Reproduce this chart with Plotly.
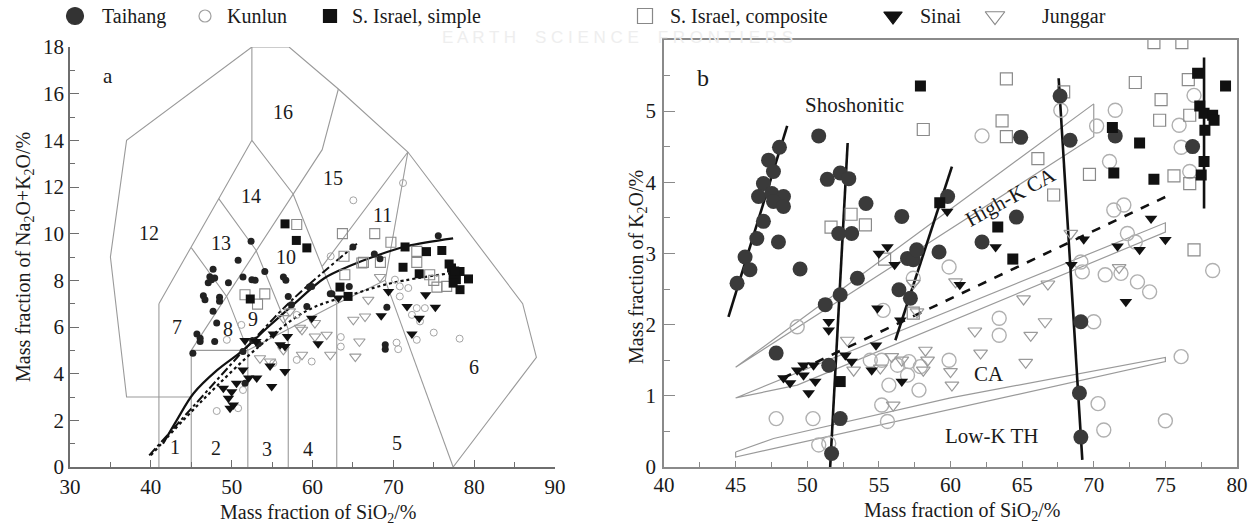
import plotly.graph_objects as go

FONT = "Liberation Serif, Times New Roman, serif"
W, H = 1254, 526

# ---------------- Panel a : TAS (SiO2 vs Na2O+K2O) ----------------
taihang_a_x = [52.4, 50.8, 47.7, 47.3, 47.5, 47.9, 47.1, 49.6, 51.4, 52.5, 52.9, 54.1, 56.4, 56.7, 46.5, 46.7,
               48.5, 48.5, 47.7, 48.15, 45.7, 46.1, 46.1, 47.9, 45.2, 57.0, 57.4, 59.3, 59.9, 62.4, 52.6, 53.3,
               51.4, 51.65, 65.0, 67.65, 68.35, 75.56, 69.2, 69.0, 69.0, 64.55, 62.2, 59.6]
taihang_a_y = [9.67, 8.86, 8.48, 8.15, 8.03, 8.1, 7.9, 7.9, 8.14, 8.03, 8.0, 8.38, 8.14, 8.0, 7.34, 7.17,
               7.28, 7.1, 6.67, 6.17, 5.7, 5.52, 5.38, 5.38, 4.88, 7.31, 6.95, 6.88, 7.74, 7.42, 5.42, 5.28,
               4.95, 3.59, 9.43, 9.13, 8.93, 9.91, 6.85, 5.24, 5.05, 7.74, 7.42, 7.71]

kunlun_a_x = [65.05, 71.2, 62.25, 70.2, 70.8, 71.85, 70.8, 72.9, 73.9, 72.3, 73.3, 75.0, 78.2, 70.4, 72.9,
              70.6, 59.9, 63.5, 63.5, 48.15, 50.8, 49.4, 58.05, 51.2, 51.4, 55.15, 58.05]
kunlun_a_y = [11.43, 12.17, 9.03, 8.03, 7.74, 7.67, 7.31, 6.81, 6.81, 6.52, 6.24, 5.76, 5.5, 5.33, 5.45,
              5.05, 4.52, 5.57, 5.16, 2.4, 2.52, 5.45, 4.59, 6.09, 3.3, 4.45, 6.52]

israel_s_a_x = [56.6, 58.0, 59.3, 52.3, 63.4, 64.4, 71.45, 74.1, 76.0, 71.2, 73.2, 77.2, 77.4, 77.8, 78.25,
                79.3, 78.25, 77.4, 76.9, 77.6]
israel_s_a_y = [10.42, 9.71, 9.39, 7.2, 7.71, 7.31, 9.43, 9.23, 9.28, 8.56, 8.28, 8.53, 8.24, 8.03, 8.38,
                8.06, 7.6, 7.88, 8.7, 8.4]

israel_c_a_x = [58.05, 63.7, 67.7, 63.9, 66.1, 51.65, 54.1, 53.2, 69.7, 72.9, 72.9, 66.3, 64.0, 68.4, 75.0,
                75.4, 76.6, 74.5]
israel_c_a_y = [10.39, 10.0, 10.0, 9.03, 8.74, 7.38, 7.42, 6.98, 9.63, 9.24, 8.77, 8.77, 8.24, 8.77, 8.0,
                7.71, 7.74, 8.24]

sinai_a_x = [51.65, 53.0, 55.15, 56.9, 56.0, 56.6, 59.9, 60.7, 54.75, 56.6, 51.4, 53.1, 54.95, 48.97, 50.0,
             50.6, 49.6, 50.2, 49.8, 52.1, 63.2, 69.4, 74.0, 71.7, 75.2, 68.5, 73.2, 72.3]
sinai_a_y = [5.42, 5.38, 5.7, 5.59, 5.24, 5.16, 6.38, 5.28, 4.33, 4.09, 4.16, 3.81, 3.45, 3.38, 3.23,
             3.59, 2.95, 2.66, 2.52, 3.81, 7.24, 7.52, 7.38, 6.88, 6.85, 6.48, 6.38, 5.7]

junggar_a_x = [58.7, 60.3, 61.75, 62.2, 58.7, 56.4, 54.75, 53.5, 57.2, 56.4, 65.05, 66.5, 68.35, 65.8, 65.3,
               60.3, 66.9, 58.45]
junggar_a_y = [5.88, 5.59, 5.67, 4.81, 4.81, 5.02, 4.52, 4.66, 6.67, 6.38, 6.31, 6.45, 8.14, 5.38, 4.73,
               6.17, 7.17, 5.97]

# TAS field boundaries (SiO2, alkali) polylines
tas_lines = [
    [(41, 0), (41, 7)],
    [(41, 7), (45, 9.4), (48.4, 11.5), (52.5, 14)],
    [(45, 0), (45, 5)],
    [(45, 3), (37, 3), (35, 9), (37, 14), (52.5, 18), (57.1, 18), (63.2, 16.2), (71.8, 13.5),
     (86, 7), (87.7, 4.7), (77.4, 0)],
    [(45, 5), (61.2, 13.6), (63.2, 16.2)],
    [(45, 5), (52, 5)],
    [(52, 5), (57, 5.9), (63, 7), (69, 8)],
    [(45, 9.4), (49.4, 7.3), (52, 5)],
    [(52, 0), (52, 5)],
    [(48.4, 11.5), (53, 9.3), (57, 5.9)],
    [(57, 0), (57, 5.9)],
    [(52.5, 14), (57.6, 11.7), (63, 7)],
    [(63, 0), (63, 7)],
    [(69, 8), (77.4, 0)],
    [(69, 8), (71.8, 13.5)],
    [(61.2, 8.6), (71.8, 13.5)],
    [(52.5, 14), (52.5, 18)],
]
tas_labels = ["1", "2", "3", "4", "5", "6", "7", "8", "9", "10", "11", "12", "13", "14", "15", "16"]
tas_label_x = [43.0, 48.1, 54.4, 59.4, 70.5, 80.0, 43.2, 49.6, 52.6, 56.7, 68.6, 39.8, 48.7, 52.35, 62.5, 56.3]
tas_label_y = [0.85, 0.8, 0.77, 0.77, 1.05, 4.3, 6.0, 5.9, 6.35, 9.0, 10.8, 10.05, 9.6, 11.6, 12.4, 15.2]

# trend curves panel a
solid_a_x = [41.5, 43.2, 45.3, 48.2, 51.4, 54.5, 57.6, 61.5, 64.5, 67.7, 71.6, 77.4]
solid_a_y = [1.0, 2.0, 3.16, 4.15, 5.0, 6.0, 6.95, 8.1, 8.6, 9.03, 9.46, 9.8]
dash_a_x = [39.8, 45.0, 52.7, 57.6, 65.6]
dash_a_y = [0.5, 2.5, 5.45, 7.2, 9.6]
dot_a_x = [40.0, 44.0, 48.1, 53.5, 59.3, 65.0, 70.0, 77.0]
dot_a_y = [0.5, 2.0, 3.45, 5.2, 6.7, 7.4, 7.9, 8.3]

# ---------------- Panel b : SiO2 vs K2O ----------------
taihang_b_x = [50.8, 48.06, 47.3, 47.64, 46.94, 46.6, 47.53, 48.34, 47.64, 48.34, 46.94, 46.48, 47.99, 45.66,
               46.0, 45.1, 49.5, 51.4, 52.3, 52.9, 52.2, 53.1, 54.1, 56.6, 53.5, 51.26, 52.3, 47.83, 51.5, 52.3,
               51.7, 56.4, 57.2, 57.0, 57.4, 57.64, 59.2, 59.8, 62.2, 64.6, 64.9, 67.65, 68.35, 71.5, 76.9,
               69.1, 69.0, 69.1]
taihang_b_y = [4.65, 4.49, 4.31, 4.15, 3.98, 3.80, 3.84, 3.80, 3.73, 3.66, 3.45, 3.21, 3.16, 2.95,
               2.77, 2.58, 2.78, 4.04, 4.13, 4.05, 3.28, 3.28, 3.70, 3.52, 2.65, 2.28, 2.42, 1.60, 1.43, 0.68,
               0.19, 2.49, 2.37, 2.93, 2.91, 3.05, 3.02, 3.80, 3.16, 3.51, 4.63, 5.21, 4.59, 4.65, 4.5,
               2.04, 1.04, 0.42]

kunlun_b_x = [49.3, 47.83, 50.4, 50.8, 51.5, 55.3, 55.7, 55.2, 55.6, 54.4, 55.2, 56.3, 57.1, 57.8, 57.0, 57.9,
              59.9, 57.4, 59.9, 63.4, 63.4, 69.1, 69.2, 70.0, 70.8, 71.9, 73.05, 73.9, 70.3, 70.7, 75.0, 76.1,
              78.3, 62.2, 67.7, 70.2, 71.5, 71.1, 71.4, 72.1, 72.35, 72.9, 75.96, 76.1, 77.0, 76.7]
kunlun_b_y = [1.97, 0.68, 0.68, 0.31, 0.33, 2.2, 1.15, 0.87, 0.64, 1.50, 1.50, 1.43, 1.48, 1.08, 1.29, 1.41,
              1.50, 2.65, 2.81, 2.09, 1.85, 2.88, 2.74, 2.04, 2.70, 2.72, 2.60, 2.46, 0.89, 0.52, 0.65, 1.55,
              2.76, 4.65, 5.01, 4.79, 5.01, 4.29, 3.61, 3.68, 3.28, 3.16, 4.80, 4.49, 5.22, 4.15]

israel_s_b_x = [57.9, 59.25, 63.3, 64.35, 71.3, 71.4, 73.2, 74.2, 77.25, 79.2, 77.4, 77.7, 78.3, 78.4, 77.76,
                77.7, 77.5, 52.3]
israel_s_b_y = [5.35, 3.71, 3.37, 2.92, 4.77, 4.13, 4.55, 4.04, 5.53, 5.35, 5.07, 4.97, 4.94, 4.87, 4.73,
                4.29, 4.10, 1.20]

israel_c_b_x = [51.66, 53.06, 54.06, 58.1, 55.4, 63.9, 63.6, 63.9, 66.1, 67.2, 67.9, 69.7, 72.9, 74.7, 74.6,
                74.2, 76.15, 76.6, 76.7, 75.6, 76.7, 77.0, 57.4]
israel_c_b_y = [3.37, 3.55, 3.40, 4.74, 2.92, 5.45, 4.86, 4.64, 4.33, 3.82, 5.27, 4.11, 5.40, 5.16, 4.87,
                5.96, 5.96, 5.44, 4.94, 4.09, 3.98, 3.05, 2.16]

sinai_b_x = [55.0, 55.6, 56.1, 54.9, 51.5, 51.5, 54.8, 56.5, 52.66, 53.1, 54.5, 56.6, 48.34, 48.8, 49.3, 49.74,
             50.44, 49.74, 50.56, 50.1, 59.77, 63.15, 69.3, 71.66, 73.2, 74.0, 75.0, 60.65, 68.44, 72.24]
sinai_b_y = [3.0, 3.09, 2.84, 2.23, 2.04, 1.92, 1.71, 2.06, 1.57, 1.48, 1.36, 1.20, 1.25, 1.18, 1.36, 1.43,
             1.43, 1.29, 1.20, 1.04, 3.59, 3.09, 3.20, 3.10, 3.05, 3.49, 3.19, 2.56, 2.84, 2.32]

junggar_b_x = [52.8, 53.24, 55.1, 55.9, 56.6, 58.25, 58.4, 58.1, 56.0, 57.66, 57.4, 60.35, 60.0, 60.1, 61.7,
               62.1, 65.25, 65.6, 66.6, 65.1, 66.8, 71.77, 68.4]
junggar_b_y = [1.78, 1.36, 1.39, 1.55, 1.50, 1.64, 1.50, 1.36, 0.87, 2.18, 2.58, 2.60, 1.34, 1.15, 1.91,
               1.60, 1.47, 1.85, 2.04, 2.36, 2.57, 2.80, 3.28]

# series boundary bands (Peccerillo & Taylor style)
band_lines_b = [
    [(45, 1.4), (70, 5.1), (70, 4.64), (45, 1.4)],
    [(45, 0.97), (75, 3.43), (75, 3.3), (49.3, 1.15), (45, 0.97)],
    [(45, 0.21), (47.65, 0.4), (60, 0.97), (75, 1.54), (75, 1.48), (60, 0.81), (45, 0.14), (45, 0.21)],
]
trend_b = [
    [(44.5, 2.11), (48.6, 4.79)],
    [(51.6, 0.0), (52.82, 4.55)],
    [(56.15, 1.78), (60.1, 4.22)],
    [(67.55, 5.46), (69.2, 0.1)],
    [(77.7, 5.75), (77.7, 3.63)],
]
dash_b_x = [48.3, 75.07]
dash_b_y = [1.25, 3.8]

legend_names = ["Taihang", "Kunlun", "S. Israel, simple", "S. Israel, composite", "Sinai", "Junggar"]

# ---------------- figure ----------------
def dx(p0, p1):
    return [p0 / W, p1 / W]


def dy(top, bottom):
    return [(H - bottom) / H, (H - top) / H]


fig = go.Figure()
LINE_GRAY = "#9a9a9a"

# panel a boundaries
for seg in tas_lines:
    fig.add_trace(go.Scatter(x=[p[0] for p in seg], y=[p[1] for p in seg], mode="lines",
                             line=dict(color=LINE_GRAY, width=1.1), xaxis="x", yaxis="y",
                             showlegend=False, hoverinfo="skip"))
# panel a trends
fig.add_trace(go.Scatter(x=solid_a_x, y=solid_a_y, mode="lines", line=dict(color="#111", width=2.2, shape="spline"),
                         xaxis="x", yaxis="y", showlegend=False))
fig.add_trace(go.Scatter(x=dash_a_x, y=dash_a_y, mode="lines", line=dict(color="#111", width=2, dash="dashdot", shape="spline"),
                         xaxis="x", yaxis="y", showlegend=False))
fig.add_trace(go.Scatter(x=dot_a_x, y=dot_a_y, mode="lines", line=dict(color="#111", width=2.2, dash="dot", shape="spline"),
                         xaxis="x", yaxis="y", showlegend=False))

# panel b bands and trends
for seg in band_lines_b:
    fig.add_trace(go.Scatter(x=[p[0] for p in seg], y=[p[1] for p in seg], mode="lines",
                             line=dict(color=LINE_GRAY, width=1.2), xaxis="x2", yaxis="y2",
                             showlegend=False, hoverinfo="skip"))
for seg in trend_b:
    fig.add_trace(go.Scatter(x=[p[0] for p in seg], y=[p[1] for p in seg], mode="lines",
                             line=dict(color="#111", width=2.6), xaxis="x2", yaxis="y2", showlegend=False))
fig.add_trace(go.Scatter(x=dash_b_x, y=dash_b_y, mode="lines", line=dict(color="#111", width=2.6, dash="dash"),
                         xaxis="x2", yaxis="y2", showlegend=False))


def pts(x, y, ax, ay, symbol, size, color, lw=1.2):
    fig.add_trace(go.Scatter(x=x, y=y, mode="markers", xaxis=ax, yaxis=ay, showlegend=False,
                             marker=dict(symbol=symbol, size=size, color=color,
                                         line=dict(color=color, width=lw))))


# panel a points
pts(kunlun_a_x, kunlun_a_y, "x", "y", "circle-open", 7, "#a5a5a5", 1)
pts(junggar_a_x, junggar_a_y, "x", "y", "triangle-down-open", 10, "#9a9a9a", 1.1)
pts(israel_c_a_x, israel_c_a_y, "x", "y", "square-open", 10, "#8a8a8a", 1.1)
pts(taihang_a_x, taihang_a_y, "x", "y", "circle", 7, "#222222", 0)
pts(israel_s_a_x, israel_s_a_y, "x", "y", "square", 9, "#111111", 0)
pts(sinai_a_x, sinai_a_y, "x", "y", "triangle-down", 10, "#111111", 0)

# panel b points
pts(kunlun_b_x, kunlun_b_y, "x2", "y2", "circle-open", 14, "#b0b0b0", 1.4)
pts(junggar_b_x, junggar_b_y, "x2", "y2", "triangle-down-open", 12, "#9a9a9a", 1.2)
pts(israel_c_b_x, israel_c_b_y, "x2", "y2", "square-open", 12, "#8a8a8a", 1.2)
pts(taihang_b_x, taihang_b_y, "x2", "y2", "circle", 15, "#3a3a3a", 0)
pts(israel_s_b_x, israel_s_b_y, "x2", "y2", "square", 11, "#111111", 0)
pts(sinai_b_x, sinai_b_y, "x2", "y2", "triangle-down", 11, "#111111", 0)

# legend markers (on an invisible pixel-space axis)
leg_px = [75, 205, 330, 645, 893, 995]
leg_text_px = [100, 225, 350, 668, 918, 1040]
leg_sym = ["circle", "circle-open", "square", "square-open", "triangle-down", "triangle-down-open"]
leg_size = [17, 12, 13, 15, 16, 17]
leg_col = ["#333333", "#a0a0a0", "#111111", "#888888", "#111111", "#888888"]
for i in range(6):
    fig.add_trace(go.Scatter(x=[leg_px[i]], y=[16], mode="markers", xaxis="x3", yaxis="y3", showlegend=False,
                             marker=dict(symbol=leg_sym[i], size=leg_size[i], color=leg_col[i],
                                         line=dict(color=leg_col[i], width=1.2))))

tick_font = dict(family=FONT, size=21, color="#1a1a1a")
ax_line = "#6e6e6e"
TXT = "#1a1a1a"


def ptxt(px, py, text, size=21, angle=0, xanchor="center", family=FONT, color=TXT):
    return dict(x=px / W, y=(H - py) / H, xref="paper", yref="paper", text=text, showarrow=False,
                xanchor=xanchor, yanchor="middle", textangle=angle, font=dict(family=family, size=size, color=color))


layout_annots = []
for i, name in enumerate(legend_names):
    layout_annots.append(ptxt(leg_text_px[i], 16, name, size=20, xanchor="left"))
for t, x, y in zip(tas_labels, tas_label_x, tas_label_y):
    layout_annots.append(dict(x=x, y=y, xref="x", yref="y", text=t, showarrow=False,
                              font=dict(family=FONT, size=20, color=TXT)))
layout_annots += [
    dict(x=34.7, y=16.75, xref="x", yref="y", text="a", showarrow=False, font=dict(family=FONT, size=21, color=TXT)),
    dict(x=42.7, y=5.46, xref="x2", yref="y2", text="b", showarrow=False, font=dict(family=FONT, size=24, color=TXT)),
    dict(x=53.3, y=5.08, xref="x2", yref="y2", text="Shoshonitic", showarrow=False, font=dict(family=FONT, size=21, color=TXT)),
    dict(x=64.2, y=3.79, xref="x2", yref="y2", text="High-K CA", textangle=-29, showarrow=False, font=dict(family=FONT, size=21, color=TXT)),
    dict(x=62.7, y=1.3, xref="x2", yref="y2", text="CA", showarrow=False, font=dict(family=FONT, size=21, color=TXT)),
    dict(x=62.9, y=0.43, xref="x2", yref="y2", text="Low-K TH", showarrow=False, font=dict(family=FONT, size=21, color=TXT)),
    # axis titles
    ptxt(318, 513, "Mass fraction of SiO<sub>2</sub>/%", size=20),
    ptxt(962, 511, "Mass fraction of SiO<sub>2</sub>/%", size=20),
    ptxt(24, 257, "Mass fraction of Na<sub>2</sub>O+K<sub>2</sub>O/%", size=20, angle=-90),
    ptxt(637, 267, "Mass fraction of K<sub>2</sub>O/%", size=20, angle=-90),
    # faint watermark
    ptxt(617, 38, "E A R T H    S C I E N C E    F R O N T I E R S", size=17,
         family="Liberation Sans, Arial, sans-serif", color="#eeeeee"),
]

fig.update_layout(
    width=W, height=H, margin=dict(l=0, r=0, t=0, b=0, autoexpand=False),
    paper_bgcolor="white", plot_bgcolor="rgba(0,0,0,0)", showlegend=False,
    annotations=layout_annots,
    xaxis=dict(domain=dx(70, 555), range=[30, 90], dtick=10, tick0=30, ticks="inside", ticklen=7,
               showline=True, linecolor=ax_line, linewidth=1.5, tickcolor=ax_line, showgrid=False, zeroline=False,
               tickfont=tick_font, ticklabelstandoff=0, anchor="y", automargin=False,
               minor=dict(dtick=5, ticks="inside", ticklen=5, tickcolor=ax_line)),
    yaxis=dict(domain=dy(47, 467), range=[0, 18], dtick=2, ticks="inside", ticklen=9,
               showline=True, linecolor=ax_line, linewidth=1.5, tickcolor=ax_line, showgrid=False, zeroline=False,
               tickfont=tick_font, ticklabelstandoff=0, anchor="x", automargin=False,
               minor=dict(dtick=1, ticks="inside", ticklen=5, tickcolor=ax_line)),
    xaxis2=dict(domain=dx(664, 1237), range=[40, 80], dtick=5, tick0=40, ticks="inside", ticklen=6,
                showline=True, mirror=True, linecolor="#8a8a8a", linewidth=1.5, tickcolor="#8a8a8a", showgrid=False,
                zeroline=False, tickfont=tick_font, ticklabelstandoff=-2, anchor="y2", automargin=False,
                minor=dict(dtick=2.5, ticks="inside", ticklen=5, tickcolor="#8a8a8a")),
    yaxis2=dict(domain=dy(39.8, 467), range=[0, 6], tickvals=[0, 1, 2, 3, 4, 5], ticks="inside", ticklen=11,
                showline=True, mirror=True, linecolor="#8a8a8a", linewidth=1.5, tickcolor="#8a8a8a", showgrid=False,
                zeroline=False, tickfont=tick_font, ticklabelstandoff=2, anchor="x2", automargin=False,
                minor=dict(tickvals=[0.5, 1.5, 2.5, 3.5, 4.5, 5.5], ticks="inside", ticklen=6, tickcolor="#8a8a8a")),
    xaxis3=dict(domain=[0, 1], range=[0, W], visible=False, anchor="y3", automargin=False),
    yaxis3=dict(domain=[0, 1], range=[H, 0], visible=False, anchor="x3", automargin=False),
)

fig.write_html("out.html")
